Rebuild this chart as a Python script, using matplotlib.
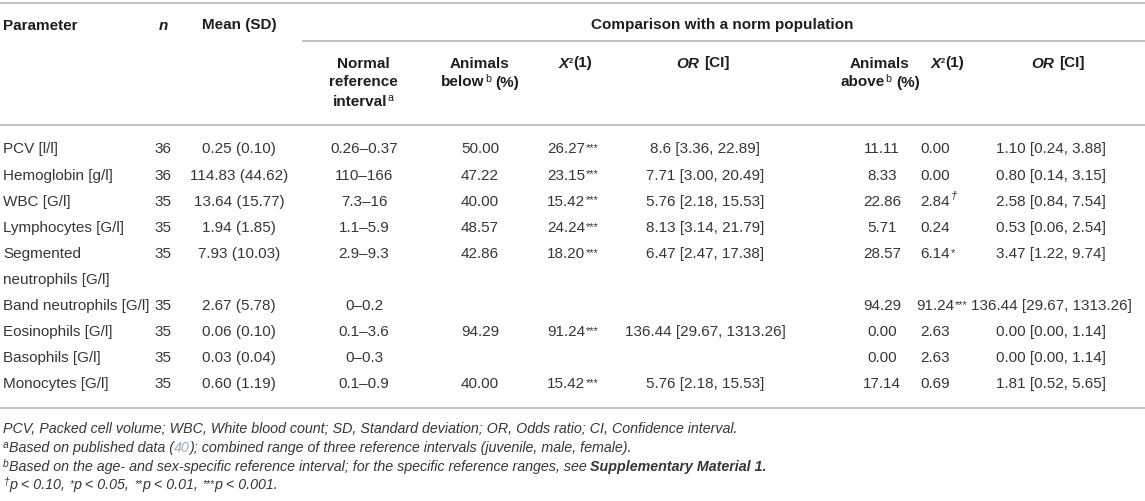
import matplotlib
matplotlib.use('Agg')
import matplotlib.pyplot as plt
from matplotlib.font_manager import FontProperties

# ---------------- data ----------------
params = ['PCV [l/l]', 'Hemoglobin [g/l]', 'WBC [G/l]', 'Lymphocytes [G/l]',
          'Segmented\nneutrophils [G/l]', 'Band neutrophils [G/l]', 'Eosinophils [G/l]',
          'Basophils [G/l]', 'Monocytes [G/l]']
n_vals = [36, 36, 35, 35, 35, 35, 35, 35, 35]
means = [0.25, 114.83, 13.64, 1.94, 7.93, 2.67, 0.06, 0.03, 0.60]
sds = [0.10, 44.62, 15.77, 1.85, 10.03, 5.78, 0.10, 0.04, 1.19]
ref_intervals = ['0.26–0.37', '110–166', '7.3–16', '1.1–5.9', '2.9–9.3',
                 '0–0.2', '0.1–3.6', '0–0.3', '0.1–0.9']
below_pct = [50.00, 47.22, 40.00, 48.57, 42.86, None, 94.29, None, 40.00]
below_chi = [26.27, 23.15, 15.42, 24.24, 18.20, None, 91.24, None, 15.42]
below_sig = ['***', '***', '***', '***', '***', '', '***', '', '***']
below_or = ['8.6 [3.36, 22.89]', '7.71 [3.00, 20.49]', '5.76 [2.18, 15.53]',
            '8.13 [3.14, 21.79]', '6.47 [2.47, 17.38]', '',
            '136.44 [29.67, 1313.26]', '', '5.76 [2.18, 15.53]']
above_pct = [11.11, 8.33, 22.86, 5.71, 28.57, 94.29, 0.00, 0.00, 17.14]
above_chi = [0.00, 0.00, 2.84, 0.24, 6.14, 91.24, 2.63, 2.63, 0.69]
above_sig = ['', '', '†', '', '*', '***', '', '', '']
above_or = ['1.10 [0.24, 3.88]', '0.80 [0.14, 3.15]', '2.58 [0.84, 7.54]',
            '0.53 [0.06, 2.54]', '3.47 [1.22, 9.74]', '136.44 [29.67, 1313.26]',
            '0.00 [0.00, 1.14]', '0.00 [0.00, 1.14]', '1.81 [0.52, 5.65]']

# ---------------- layout ----------------
W, H = 1145, 502
fig = plt.figure(figsize=(W / 100, H / 100), dpi=100)
ax = fig.add_axes([0, 0, 1, 1])
ax.set_xlim(0, W)
ax.set_ylim(H, 0)
ax.axis('off')
renderer = fig.canvas.get_renderer()

FONT = 'Liberation Sans'
BASE = 11
FN = 10.3
TXT = '#363636'
HDR = '#1e1e1e'
LINE = '#c4c4c4'


def _measure(s, size, weight, style):
    fp = FontProperties(family=FONT, size=size, weight=weight, style=style)
    w, h, d = renderer.get_text_width_height_descent(s, fp, ismath=False)
    return w


def rich(x, yb, segs, ha='left', size=BASE, color=TXT, weight='normal', style='normal'):
    """segs: list of (text, opts). opts: sup, scale, raise, weight, style, color"""
    items = []
    for text, o in segs:
        sz = size * o.get('scale', 0.62) if o.get('sup') else size
        wt = o.get('weight', weight)
        st = o.get('style', style)
        lead = len(text) - len(text.lstrip(' '))
        trail = len(text) - len(text.rstrip(' '))
        core = text.strip(' ')
        sp = _measure('a a', sz, wt, st) - _measure('aa', sz, wt, st)
        w = _measure(core, sz, wt, st) if core else 0
        items.append((core, sz, wt, st, o, lead * sp, w, trail * sp))
    total = sum(it[5] + it[6] + it[7] for it in items)
    cx = x - total / 2 if ha == 'center' else x
    for core, sz, wt, st, o, lg, w, tg in items:
        cx += lg
        if core:
            dy = o.get('raise', size * 0.42) if o.get('sup') else 0
            ax.text(cx + o.get('pad', 0), yb - dy, core, fontsize=sz, family=FONT, weight=wt,
                    style=st, color=o.get('color', color), ha='left', va='baseline')
        cx += w + tg + o.get('pad', 0)


def hline(y, x0=0, x1=W):
    ax.plot([x0, x1], [y, y], color=LINE, lw=1.5, solid_capstyle='butt')


OFF = 5.5  # center -> baseline
STAR = {'sup': True, 'scale': 0.72, 'raise': 2.5, 'pad': 0.5}

# rules
hline(4)
hline(42, 302, W)
hline(126)
hline(409)

# header row 1
hb = 24 + OFF
rich(3, hb, [('Parameter', {})], weight='bold', color=HDR)
rich(163, hb, [('n', {'style': 'italic'})], ha='center', weight='bold', color=HDR)
rich(239, hb, [('Mean (SD)', {})], ha='center', weight='bold', color=HDR)
rich(722, hb, [('Comparison with a norm population', {})], ha='center', weight='bold', color=HDR)

# header row 2
h1, h2, h3 = 62 + OFF, 81 + OFF, 100 + OFF
hk = dict(weight='bold', color=HDR, ha='center')
rich(363, h1, [('Normal', {})], **hk)
rich(363, h2, [('reference', {})], **hk)
rich(363, h3, [('interval', {}), ('a', {'sup': True, 'weight': 'normal', 'scale': 0.7, 'pad': 0.5})], **hk)
for cx, word in [(480, 'below'), (880, 'above')]:
    rich(cx, h1, [('Animals', {})], **hk)
    rich(cx, h2, [(word, {}), ('b', {'sup': True, 'weight': 'normal', 'scale': 0.7, 'pad': 0.5}),
                  (' (%)', {})], **hk)
for cx in (575, 947):
    rich(cx, h1, [('X', {'style': 'italic'}), ('2', {'sup': True, 'scale': 0.5}), ('(1)', {})], **hk)
for cx in (703, 1058):
    rich(cx, h1, [('OR', {'style': 'italic'}), (' [CI]', {})], **hk)

# data rows
row_y = [148, 174.2, 200.4, 226.6, 252.8, 304.8, 331, 357, 383]
LINE_STEP = 26
for i, yc in enumerate(row_y):
    yb = yc + OFF
    for k, line in enumerate(params[i].split('\n')):
        rich(3, yb + k * LINE_STEP, [(line, {})])
    rich(163, yb, [(str(n_vals[i]), {})], ha='center')
    rich(239, yb, [(f'{means[i]:.2f} ({sds[i]:.2f})', {})], ha='center')
    rich(364, yb, [(ref_intervals[i], {})], ha='center')
    if below_pct[i] is not None:
        rich(480, yb, [(f'{below_pct[i]:.2f}', {})], ha='center')
    if below_chi[i] is not None:
        num = f'{below_chi[i]:.2f}'
        rich(566 - _measure(num, BASE, 'normal', 'normal') / 2, yb,
             [(num, {}), (below_sig[i], STAR)])
    if below_or[i]:
        rich(705, yb, [(below_or[i], {})], ha='center')
    rich(882, yb, [(f'{above_pct[i]:.2f}', {})], ha='center')
    num = f'{above_chi[i]:.2f}'
    sig = above_sig[i]
    segs = [(num, {})]
    if sig:
        if sig == '†':
            segs.append((sig, {'sup': True, 'style': 'italic', 'raise': 6.5, 'scale': 0.75, 'pad': 0.5}))
        else:
            segs.append((sig, STAR))
    rich(935 - _measure(num, BASE, 'normal', 'normal') / 2, yb, segs)
    rich(1051, yb, [(above_or[i], {})], ha='center')

# footnotes
fk = dict(size=FN, style='italic', color=TXT)
sk = {'sup': True, 'raise': 4.0, 'scale': 0.72}
fs = {'sup': True, 'raise': 2.0, 'scale': 0.72, 'pad': 0.5}
rich(3, 428 + 5, [('PCV, Packed cell volume; WBC, White blood count; SD, Standard deviation; '
                   'OR, Odds ratio; CI, Confidence interval.', {})], **fk)
rich(3, 447 + 5, [('a', sk), ('Based on published data (', {}), ('40', {'color': '#9aabbd'}),
                  ('); combined range of three reference intervals (juvenile, male, female).', {})], **fk)
rich(3, 466 + 5, [('b', sk), ('Based on the age- and sex-specific reference interval; for the specific '
                              'reference ranges, see ', {}),
                  ('Supplementary Material 1.', {'weight': 'bold'})], **fk)
rich(3, 484 + 5, [('†', dict(sk, pad=0.5)), ('p < 0.10, ', {}), ('*', fs), ('p < 0.05, ', {}),
                  ('**', fs), ('p < 0.01, ', {}), ('***', fs), ('p < 0.001.', {})], **fk)

fig.savefig('out.png', dpi=100, facecolor='white')
